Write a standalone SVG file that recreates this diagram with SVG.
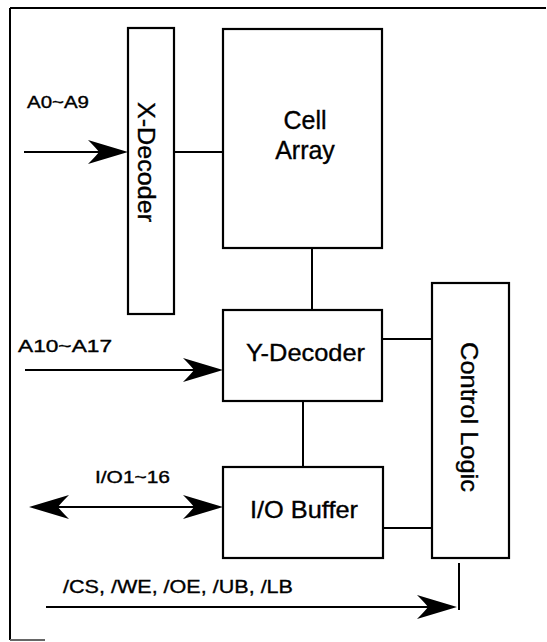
<svg xmlns="http://www.w3.org/2000/svg" xmlns:xlink="http://www.w3.org/1999/xlink" width="547" height="642" viewBox="0 0 547 642">
<style>
.box{fill:#fff;stroke:#000;stroke-width:2.2}
.ln{fill:none;stroke:#000;stroke-width:2}
.t{font-family:"Liberation Sans",Arial,sans-serif;fill:#000;stroke:#000;stroke-width:0.35}
.big{font-size:24px}
.lbl{font-size:16px}
</style>
<defs>
<path id="ah" d="M0,0 L-40,-12 Q-32,-4 -29,0 Q-32,4 -40,12 Z" fill="#000"/>
</defs>
<rect width="547" height="642" fill="#fff"/>
<g id="frame">
<line class="ln" x1="10" y1="8" x2="546" y2="8"/>
<line class="ln" x1="10" y1="8" x2="10" y2="640"/>
<line x1="10" y1="640" x2="45" y2="640" stroke="#666" stroke-width="2"/>
</g>
<g id="connectors">
<line class="ln" x1="24" y1="152" x2="110" y2="152"/>
<use xlink:href="#ah" transform="translate(128,152)"/>
<line class="ln" x1="174" y1="152" x2="223" y2="152"/>
<line class="ln" x1="312" y1="248" x2="312" y2="310"/>
<line class="ln" x1="25" y1="370" x2="205" y2="370"/>
<use xlink:href="#ah" transform="translate(223,370)"/>
<line class="ln" x1="303" y1="401" x2="303" y2="467"/>
<line class="ln" x1="382" y1="339" x2="432" y2="339"/>
<line class="ln" x1="48" y1="507" x2="205" y2="507"/>
<use xlink:href="#ah" transform="translate(223,507)"/>
<use xlink:href="#ah" transform="translate(29,507) rotate(180)"/>
<line class="ln" x1="383" y1="528" x2="432" y2="528"/>
<line class="ln" x1="46" y1="607" x2="440" y2="607"/>
<use xlink:href="#ah" transform="translate(457,607)"/>
<line class="ln" x1="459" y1="563" x2="459" y2="610"/>
</g>
<g id="xdecoder">
<rect class="box" x="128" y="28" width="46" height="286"/>
<text class="t" font-size="23" text-anchor="middle" textLength="120" lengthAdjust="spacingAndGlyphs" transform="translate(138,162) rotate(90)">X-Decoder</text>
</g>
<g id="cellarray">
<rect class="box" x="223" y="29" width="159" height="219"/>
<text class="t" font-size="25" x="305" y="129" text-anchor="middle">Cell</text>
<text class="t" font-size="25" x="305" y="159" text-anchor="middle">Array</text>
</g>
<g id="ydecoder">
<rect class="box" x="223" y="310" width="159" height="91"/>
<text class="t big" x="305.5" y="361" text-anchor="middle" textLength="119" lengthAdjust="spacingAndGlyphs">Y-Decoder</text>
</g>
<g id="iobuffer">
<rect class="box" x="223" y="467" width="160" height="91"/>
<text class="t big" x="304" y="518" text-anchor="middle" textLength="108" lengthAdjust="spacingAndGlyphs">I/O Buffer</text>
</g>
<g id="controllogic">
<rect class="box" x="432" y="283" width="77" height="275"/>
<text class="t big" text-anchor="middle" textLength="150" lengthAdjust="spacingAndGlyphs" transform="translate(461,417) rotate(90)">Control Logic</text>
</g>
<g id="labels">
<text class="t lbl" x="27" y="108" textLength="62" lengthAdjust="spacingAndGlyphs">A0~A9</text>
<text class="t lbl" x="18" y="352" textLength="94" lengthAdjust="spacingAndGlyphs">A10~A17</text>
<text class="t lbl" x="95" y="483" textLength="75" lengthAdjust="spacingAndGlyphs">I/O1~16</text>
<text class="t" font-size="19" x="63" y="593" textLength="230" lengthAdjust="spacingAndGlyphs">/CS, /WE, /OE, /UB, /LB</text>
</g>
</svg>
